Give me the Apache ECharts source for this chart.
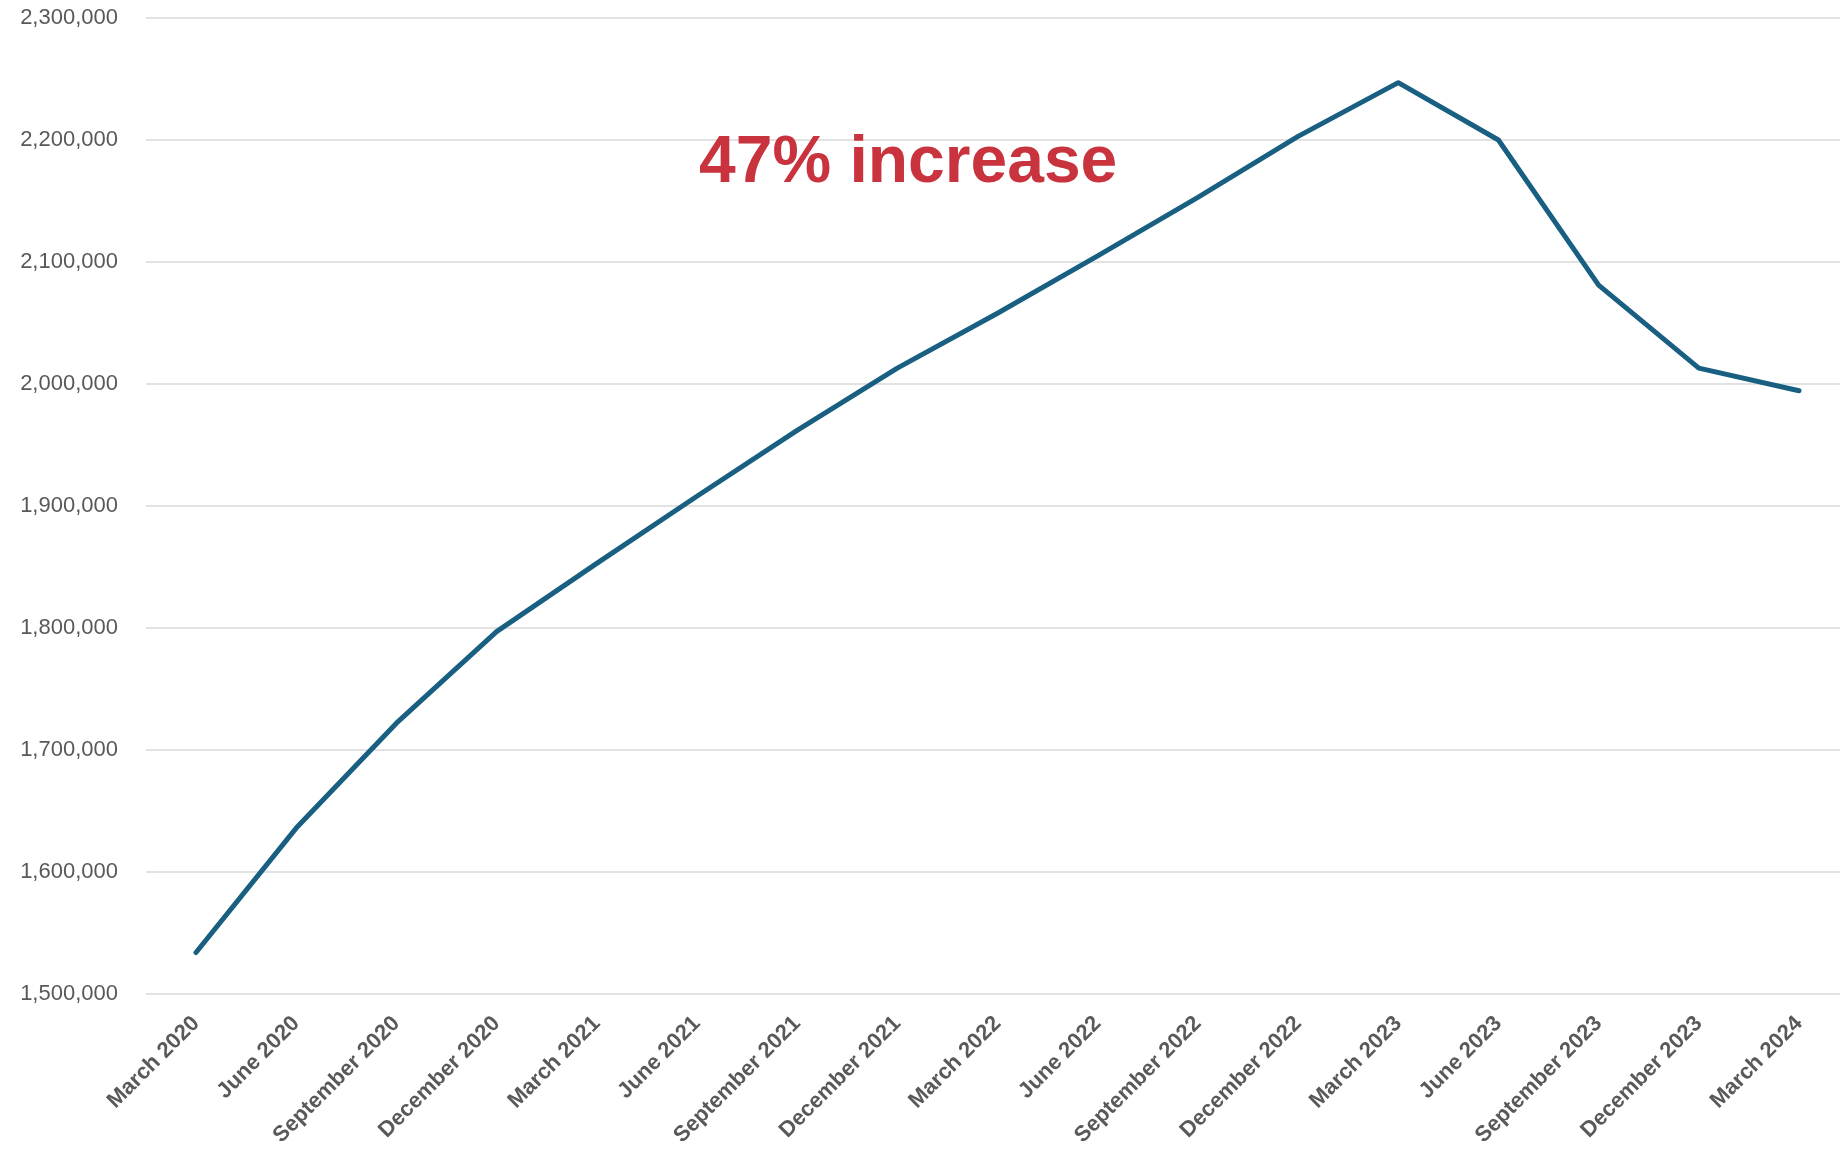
<!DOCTYPE html>
<html>
<head>
<meta charset="utf-8">
<title>Quarterly total</title>
<script src="https://cdn.jsdelivr.net/npm/echarts@6/dist/echarts.min.js"></script>
<style>
  html, body { margin: 0; padding: 0; background: #ffffff; }
  #chart { width: 1840px; height: 1153px; }
</style>
</head>
<body>
<div id="chart"></div>
<script>
// Quarter labels along the x axis
const quarters = [
  'March 2020', 'June 2020', 'September 2020', 'December 2020',
  'March 2021', 'June 2021', 'September 2021', 'December 2021',
  'March 2022', 'June 2022', 'September 2022', 'December 2022',
  'March 2023', 'June 2023', 'September 2023', 'December 2023',
  'March 2024'
];

// Quarterly totals
const totals = [
  1534000, 1636000, 1722000, 1797000,
  1853000, 1908000, 1962000, 2013000,
  2058000, 2105000, 2153000, 2203000,
  2247000, 2200000, 2081000, 2013000,
  1994500
];

// Value axis range and step
const yMin = 1500000;
const yMax = 2300000;
const yStep = 100000;

const annotationText = '47% increase';

const textFont = 'Liberation Sans, Arial, sans-serif';
const labelGrey = '#595959';

const chart = echarts.init(document.getElementById('chart'), null, { renderer: 'canvas' });

chart.setOption({
  animation: false,
  backgroundColor: '#ffffff',
  grid: [
    // full-width backdrop carrying the value labels and horizontal gridlines
    { left: 146, right: 0, top: 18, height: 976, containLabel: false },
    // plotting area whose edges sit on the first and last quarter
    { left: 196, width: 1603, top: 18, height: 976, containLabel: false }
  ],
  xAxis: [
    {
      gridIndex: 0,
      type: 'category',
      data: quarters,
      show: false
    },
    {
      gridIndex: 1,
      type: 'category',
      data: quarters,
      boundaryGap: false,
      axisLine: { show: false },
      axisTick: { show: false },
      splitLine: { show: false },
      axisLabel: {
        rotate: 45,
        interval: 0,
        margin: 26,
        color: labelGrey,
        fontFamily: textFont,
        fontWeight: 'bold',
        fontSize: 22
      }
    }
  ],
  yAxis: [
    {
      gridIndex: 0,
      type: 'value',
      min: yMin,
      max: yMax,
      interval: yStep,
      axisLine: { show: false },
      axisTick: { show: false },
      axisLabel: {
        margin: 28,
        color: labelGrey,
        fontFamily: textFont,
        fontSize: 22,
        formatter: v => v.toLocaleString('en-US')
      },
      splitLine: {
        show: true,
        lineStyle: { color: '#d9d9d9', width: 1.5 }
      }
    },
    {
      gridIndex: 1,
      type: 'value',
      min: yMin,
      max: yMax,
      interval: yStep,
      show: false,
      splitLine: { show: false }
    }
  ],
  series: [{
    type: 'line',
    xAxisIndex: 1,
    yAxisIndex: 1,
    data: totals,
    showSymbol: false,
    symbol: 'none',
    lineStyle: { color: '#185f82', width: 5, cap: 'round', join: 'round' },
    z: 3
  }],
  graphic: [{
    type: 'text',
    left: 699,
    top: 131,
    z: 10,
    style: {
      text: annotationText,
      fill: '#c9333e',
      font: 'bold 66px "Liberation Sans", Arial, sans-serif'
    }
  }]
});
</script>
</body>
</html>
